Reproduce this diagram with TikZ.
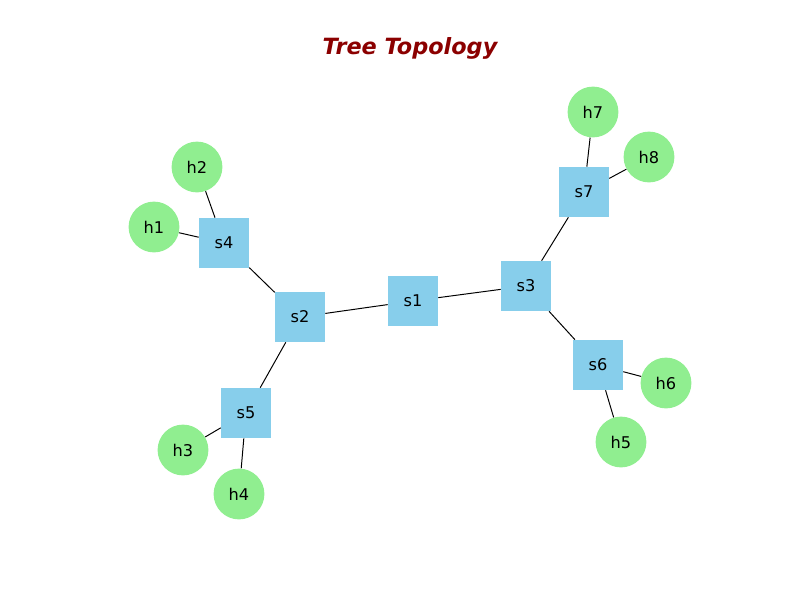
\documentclass[tikz,border=0pt]{standalone}
\usepackage{fontspec}
\setmainfont{DejaVu Sans}
\usepackage{xcolor}
\usepackage{tikz}
\usetikzlibrary{positioning,shapes,arrows.meta}
\definecolor{switchblue}{HTML}{87CEEB}
\definecolor{hostgreen}{HTML}{90EE90}
\definecolor{titlered}{HTML}{8B0000}
\tikzset{
    switchbox/.style={rectangle, fill=switchblue, minimum width=1.25cm, minimum height=1.25cm, inner sep=0pt, font=\fontsize{11.5}{13}\selectfont},
    hostnode/.style={circle, fill=hostgreen, minimum size=1.27cm, inner sep=0pt, font=\fontsize{11.5}{13}\selectfont},
    link/.style={black, line width=0.7pt}
}
\begin{document}
\begin{tikzpicture}[x=0.025cm, y=-0.025cm]
\useasboundingbox (0,0) rectangle (800,600);

% Title
\node[font=\fontsize{15.9}{18}\selectfont\bfseries\itshape, text=titlered] (title) at (410,48) {Tree Topology};

% Switches
\node[switchbox] (s1) at (413,301) {s1};
\node[switchbox] (s2) at (300,317) {s2};
\node[switchbox] (s3) at (526,286) {s3};
\node[switchbox] (s4) at (224,243) {s4};
\node[switchbox] (s5) at (246,413) {s5};
\node[switchbox] (s6) at (598,365) {s6};
\node[switchbox] (s7) at (584,192) {s7};

% Hosts
\node[hostnode] (h1) at (154,227) {h1};
\node[hostnode] (h2) at (197,167) {h2};
\node[hostnode] (h3) at (183,450) {h3};
\node[hostnode] (h4) at (239,494) {h4};
\node[hostnode] (h5) at (621,442) {h5};
\node[hostnode] (h6) at (666,383) {h6};
\node[hostnode] (h7) at (593,112) {h7};
\node[hostnode] (h8) at (649,157) {h8};

% Links
\foreach \a/\b in {s1/s2, s1/s3, s2/s4, s2/s5, s3/s6, s3/s7, s4/h1, s4/h2, s5/h3, s5/h4, s6/h5, s6/h6, s7/h7, s7/h8}
    \draw[link] (\a) -- (\b);

\end{tikzpicture}
\end{document}
